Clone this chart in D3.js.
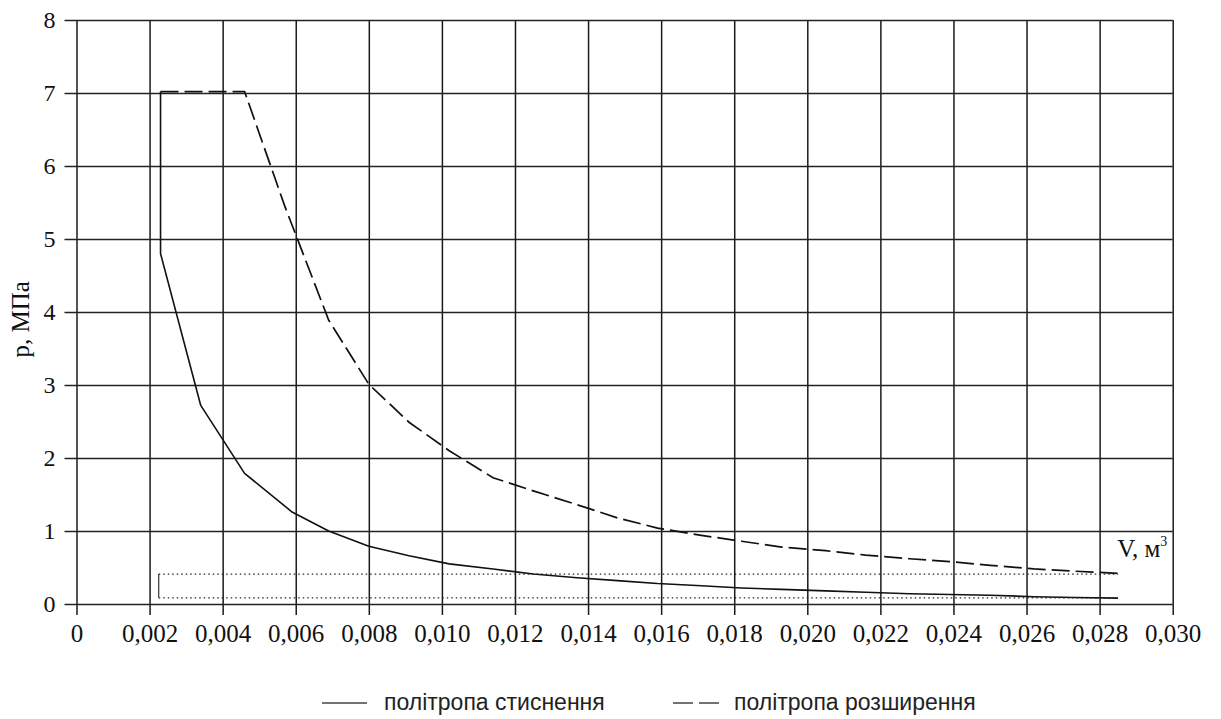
<!DOCTYPE html>
<html>
<head>
<meta charset="utf-8">
<script src="https://cdn.jsdelivr.net/npm/d3@7/dist/d3.min.js"></script>
<style>
  html, body { margin: 0; padding: 0; background: #fff; }
  svg { display: block; }
</style>
</head>
<body>
<svg id="chart" width="1221" height="719"></svg>
<script>
// Indicator diagram: compression and expansion polytropes, p (MPa) vs V (m³)

// Compression polytrope (solid), starting at the top of the combustion jump
const compV = [0.0023, 0.0023, 0.0034, 0.0046, 0.0059, 0.0069, 0.0080, 0.0091, 0.0102, 0.0114,
               0.0125, 0.0137, 0.0148, 0.0159, 0.0171, 0.0182, 0.0193, 0.0205, 0.0216,
               0.0228, 0.0239, 0.0250, 0.0262, 0.0273, 0.0285];
const compP = [7.02, 4.80, 2.72, 1.79, 1.26, 1.00, 0.79, 0.66, 0.55, 0.48,
               0.41, 0.36, 0.32, 0.28, 0.25, 0.22, 0.20, 0.18, 0.16,
               0.14, 0.13, 0.12, 0.10, 0.09, 0.08];

// Expansion polytrope (dashed), including the constant-pressure section
const expV = [0.0023, 0.0046, 0.0057, 0.0069, 0.0080, 0.0091, 0.0102, 0.0114, 0.0125,
              0.0137, 0.0148, 0.0159, 0.0171, 0.0182, 0.0193, 0.0205, 0.0216, 0.0228,
              0.0239, 0.0250, 0.0262, 0.0273, 0.0285];
const expP = [7.02, 7.02, 5.45, 3.89, 3.01, 2.49, 2.10, 1.73, 1.55,
              1.36, 1.18, 1.04, 0.94, 0.86, 0.78, 0.73, 0.67, 0.62,
              0.58, 0.53, 0.48, 0.45, 0.42];

// Exhaust / intake lines (dotted)
const gasV = [0.00225, 0.0285];
const exhaustP = 0.41;
const intakeP = 0.085;

// Axis ticks
const xTicks = d3.range(0, 16).map(i => i * 0.002);
const xTickLabels = ["0", "0,002", "0,004", "0,006", "0,008", "0,010", "0,012", "0,014",
                     "0,016", "0,018", "0,020", "0,022", "0,024", "0,026", "0,028", "0,030"];
const yTicks = [0, 1, 2, 3, 4, 5, 6, 7, 8];
const yTickLabels = ["0", "1", "2", "3", "4", "5", "6", "7", "8"];

const legendLabels = ["політропа стиснення", "політропа розширення"];

const svg = d3.select("#chart");
const W = 1221, H = 719;
const margin = { left: 76.5, right: 48.3, top: 20, bottom: 115 };

const x = d3.scaleLinear().domain([0, 0.030]).range([margin.left, W - margin.right]);
const y = d3.scaleLinear().domain([0, 8]).range([H - margin.bottom, margin.top]);

const serif = "'Liberation Serif', 'Times New Roman', serif";
const sans = "'Liberation Sans', Arial, sans-serif";

// Vertical grid lines with outward ticks
const xAxis = d3.axisBottom(x)
  .tickValues(xTicks)
  .tickSize(-(y(0) - y(8)))
  .tickFormat((d, i) => xTickLabels[i]);
const gx = svg.append("g").attr("transform", `translate(0,${y(0)})`).call(xAxis);
gx.select(".domain").remove();
gx.selectAll(".tick line")
  .attr("y1", 11)
  .attr("stroke", "#1a1a1a").attr("stroke-width", 1.5);
gx.selectAll(".tick text")
  .attr("y", 38).attr("dy", 0)
  .attr("font-family", serif).attr("font-size", 25).attr("fill", "#111");

// Horizontal grid lines with outward ticks
const yAxis = d3.axisLeft(y)
  .tickValues(yTicks)
  .tickSize(-(x(0.030) - x(0)))
  .tickFormat((d, i) => yTickLabels[i]);
const gy = svg.append("g").attr("transform", `translate(${x(0)},0)`).call(yAxis);
gy.select(".domain").remove();
gy.selectAll(".tick line")
  .attr("x1", -12)
  .attr("stroke", "#222").attr("stroke-width", 1.5);
gy.selectAll(".tick text")
  .attr("x", -21).attr("dy", "0.33em")
  .attr("font-family", serif).attr("font-size", 24).attr("fill", "#111");

// Axis titles
svg.append("text")
  .attr("transform", `translate(29,${y(3.9)}) rotate(-90)`)
  .attr("text-anchor", "middle")
  .attr("font-family", serif).attr("font-size", 25).attr("fill", "#111")
  .text("p, МПа");

const vLabel = svg.append("text")
  .attr("x", x(0.02848)).attr("y", 557)
  .attr("font-family", serif).attr("font-size", 25).attr("fill", "#111");
vLabel.append("tspan").text("V, м");
vLabel.append("tspan").attr("font-size", 14).attr("dy", -11).text("3");

// Curves
const line = d3.line().x(d => x(d[0])).y(d => y(d[1]));
const compData = compV.map((v, i) => [v, compP[i]]);
const expData = expV.map((v, i) => [v, expP[i]]);

svg.append("path").datum(compData)
  .attr("d", line)
  .attr("fill", "none").attr("stroke", "#111").attr("stroke-width", 1.6)
  .attr("stroke-linejoin", "round");

svg.append("path").datum(expData)
  .attr("d", line)
  .attr("fill", "none").attr("stroke", "#111").attr("stroke-width", 1.7)
  .attr("stroke-dasharray", "18,6");

// Gas exchange lines
[exhaustP, intakeP].forEach(p => {
  svg.append("path").datum(gasV.map(v => [v, p]))
    .attr("d", line)
    .attr("fill", "none").attr("stroke", "#222").attr("stroke-width", 1.3)
    .attr("stroke-dasharray", "1.5,3");
});
svg.append("path").datum([[gasV[0], exhaustP], [gasV[0], intakeP]])
  .attr("d", line)
  .attr("fill", "none").attr("stroke", "#333").attr("stroke-width", 1.2);

// Legend
const lg = svg.append("g");
lg.append("line").attr("x1", 322).attr("x2", 367).attr("y1", 703).attr("y2", 703)
  .attr("stroke", "#444").attr("stroke-width", 1.5);
lg.append("text").attr("x", 384).attr("y", 710)
  .attr("font-family", sans).attr("font-size", 23).attr("fill", "#222")
  .text(legendLabels[0]);
lg.append("line").attr("x1", 673).attr("x2", 720).attr("y1", 703).attr("y2", 703)
  .attr("stroke", "#444").attr("stroke-width", 1.5).attr("stroke-dasharray", "20,6");
lg.append("text").attr("x", 734).attr("y", 710)
  .attr("font-family", sans).attr("font-size", 23).attr("fill", "#222")
  .text(legendLabels[1]);
</script>
</body>
</html>
